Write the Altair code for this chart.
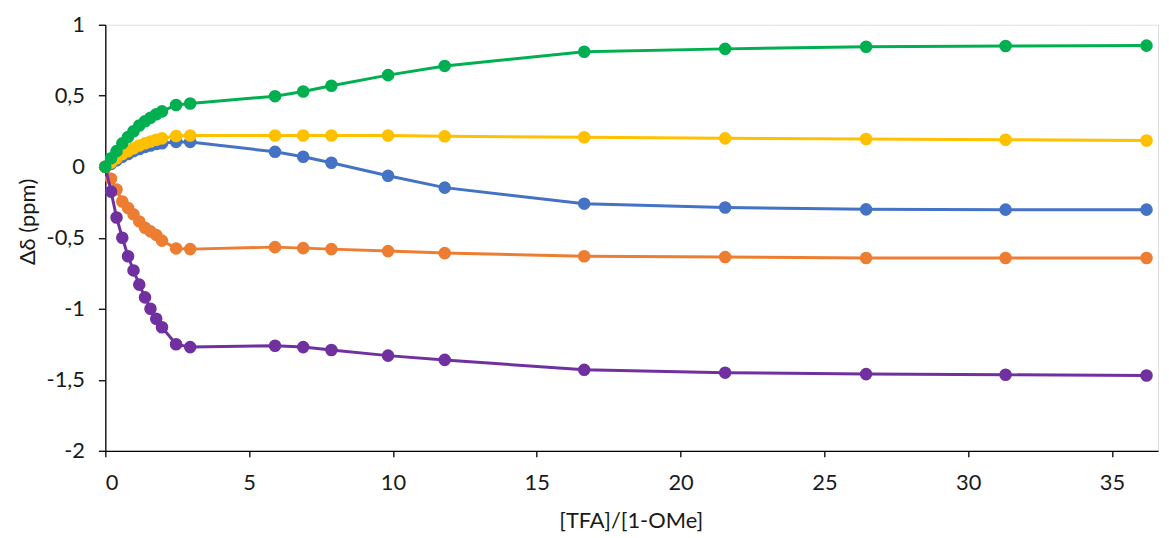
import altair as alt
import pandas as pd

# x values: [TFA]/[1-OMe]
x_vals = [0, 0.2, 0.39, 0.59, 0.79, 0.98, 1.18, 1.38, 1.57, 1.77, 1.97, 2.46, 2.95,
          5.9, 6.88, 7.86, 9.83, 11.8, 16.65, 21.55, 26.45, 31.3, 36.2]

blue = [0, 0.02, 0.045, 0.07, 0.09, 0.11, 0.125, 0.14, 0.15, 0.16, 0.165, 0.175, 0.175,
        0.105, 0.07, 0.028, -0.063, -0.147, -0.26, -0.287, -0.30, -0.302, -0.302]
orange = [0, -0.084, -0.16, -0.245, -0.29, -0.335, -0.385, -0.43, -0.455, -0.48, -0.52, -0.575, -0.58,
          -0.566, -0.573, -0.58, -0.594, -0.608, -0.63, -0.636, -0.643, -0.643, -0.643]
purple = [0, -0.175, -0.357, -0.50, -0.63, -0.73, -0.83, -0.92, -1.0, -1.07, -1.13, -1.25, -1.27,
          -1.26, -1.27, -1.29, -1.33, -1.36, -1.43, -1.45, -1.46, -1.465, -1.47]
yellow = [0, 0.03, 0.06, 0.09, 0.11, 0.13, 0.15, 0.165, 0.178, 0.19, 0.2, 0.217, 0.22,
          0.22, 0.22, 0.22, 0.22, 0.215, 0.208, 0.2, 0.195, 0.19, 0.185]
green = [0, 0.06, 0.11, 0.165, 0.21, 0.25, 0.29, 0.32, 0.345, 0.37, 0.39, 0.435, 0.445,
         0.497, 0.53, 0.57, 0.645, 0.71, 0.81, 0.83, 0.845, 0.85, 0.853]

series_names = ["blue", "orange", "purple", "yellow", "green"]
series_colors = ["#4472C4", "#ED7D31", "#7030A0", "#FFC000", "#00B050"]
series_values = [blue, orange, purple, yellow, green]

rows = []
for name, vals in zip(series_names, series_values):
    for xv, yv in zip(x_vals, vals):
        rows.append({"series": name, "x": xv, "y": yv})
df = pd.DataFrame(rows)

FONT = "Lato"
TXT = "#1a1a1a"

x_axis = alt.Axis(
    values=[0, 5, 10, 15, 20, 25, 30, 35], grid=False,
    title="[TFA]/[1-OMe]", titleFontSize=22, titleFont=FONT, titleFontWeight="normal",
    titleColor=TXT, titleX=529, titleY=70, titleAlign="center", titleBaseline="middle",
    labelFont=FONT, labelFontSize=22, labelColor=TXT, labelPadding=16,
    tickSize=6, tickColor="#000000", domainColor="#000000", domainWidth=1.3, tickWidth=1.3,
)
y_axis = alt.Axis(
    values=[-2, -1.5, -1, -0.5, 0, 0.5, 1], grid=False,
    labelExpr="datum.value < 0 ? '-' + replace(toString(abs(datum.value)), '.', ',') : replace(toString(datum.value), '.', ',')",
    title="Δδ (ppm)", titleFontSize=22, titleFont=FONT, titleFontWeight="normal",
    titleColor=TXT, titleAngle=270, titleX=-78, titleY=198, titleAlign="center",
    titleBaseline="middle",
    labelFont=FONT, labelFontSize=22, labelColor=TXT, labelPadding=14,
    tickSize=7, tickColor="#000000", domainColor="#000000", domainWidth=1.3, tickWidth=1.3,
)

xs = alt.Scale(domain=[0, 36.6], nice=False, zero=False)
ys = alt.Scale(domain=[-2, 1], nice=False)

layers = []
for name, color in zip(series_names, series_colors):
    base = alt.Chart(df).transform_filter(alt.datum.series == name).encode(
        x=alt.X("x:Q", scale=xs, axis=x_axis),
        y=alt.Y("y:Q", scale=ys, axis=y_axis),
        order=alt.Order("x:Q"),
    )
    layers.append(base.mark_line(strokeWidth=3, color=color))
    layers.append(base.mark_circle(size=160, opacity=1, color=color))

chart = alt.layer(*layers).properties(
    width=1060, height=429,
    autosize=alt.AutoSizeParams(type="none"),
    padding={"left": 98, "top": 15, "right": 3, "bottom": 90},
).configure_view(stroke=None).configure(background="white")

chart.save("out.html", embed_options={"renderer": "svg", "actions": False})
